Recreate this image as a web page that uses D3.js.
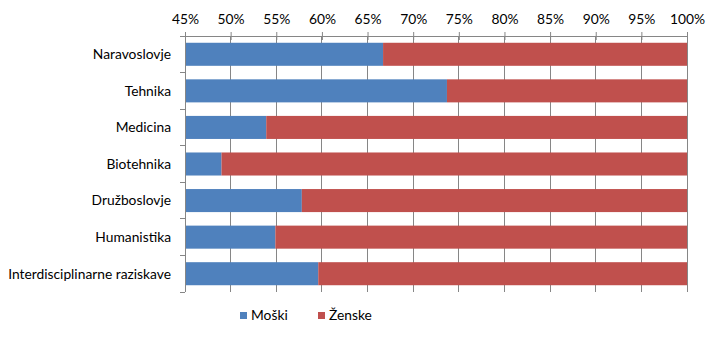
<!DOCTYPE html>
<meta charset="utf-8">
<style>
  body { margin: 0; background: #fff; }
  text { font-family: Lato, "Open Sans", sans-serif; fill: #000; }
</style>
<svg width="718" height="341"></svg>
<script src="https://d3js.org/d3.v7.min.js"></script>
<script>
var categories = ["Naravoslovje", "Tehnika", "Medicina", "Biotehnika",
  "Družboslovje", "Humanistika", "Interdisciplinarne raziskave"]
var moski = [66.7, 73.7, 53.9, 49.0, 57.8, 54.9, 59.6]
var zenske = [33.3, 26.3, 46.1, 51.0, 42.2, 45.1, 40.4]
var seriesNames = ["Moški", "Ženske"]
var seriesColors = ["#4F81BD", "#C0504D"]
var xTicks = [45, 50, 55, 60, 65, 70, 75, 80, 85, 90, 95, 100]

var svg = d3.select('svg')
var plotLeft = 185, plotRight = 687, plotTop = 36, plotBottom = 292
var fontSize = 13.8

var x = d3.scaleLinear().domain([45, 100]).range([plotLeft, plotRight])
var y = d3.scaleBand().domain(categories).range([plotTop, plotBottom]).paddingInner(0.37).paddingOuter(0.185)

// gridlines
svg.append('g').selectAll('line')
  .data(xTicks)
  .enter().append('line')
  .attr('x1', function (d) { return x(d) }).attr('x2', function (d) { return x(d) })
  .attr('y1', plotTop).attr('y2', plotBottom)
  .attr('stroke', '#868686').attr('stroke-width', 1)
  .attr('shape-rendering', 'crispEdges')

// stacked bars: Moški from the axis start, Ženske after it
var rows = categories.map(function (c, i) {
  return { cat: c, m: moski[i], z: zenske[i] }
})
var barGroup = svg.append('g')
barGroup.selectAll('rect.m')
  .data(rows)
  .enter().append('rect')
  .attr('class', 'm')
  .attr('x', x(45))
  .attr('y', function (d) { return y(d.cat) })
  .attr('width', function (d) { return x(d.m) - x(45) })
  .attr('height', y.bandwidth())
  .attr('fill', seriesColors[0])
barGroup.selectAll('rect.z')
  .data(rows)
  .enter().append('rect')
  .attr('class', 'z')
  .attr('x', function (d) { return x(d.m) })
  .attr('y', function (d) { return y(d.cat) })
  .attr('width', function (d) { return x(d.m + d.z) - x(d.m) })
  .attr('height', y.bandwidth())
  .attr('fill', seriesColors[1])

// top axis
var xAxis = d3.axisTop(x).tickValues(xTicks)
  .tickFormat(function (d) { return d + '%' })
  .tickSizeInner(4).tickSizeOuter(0).tickPadding(8)
var gx = svg.append('g').attr('transform', 'translate(0,' + plotTop + ')').call(xAxis)
gx.select('.domain').attr('stroke', '#868686')
gx.selectAll('.tick line').attr('stroke', '#868686').attr('y2', 4).attr('y1', -4)
gx.selectAll('.tick text').attr('font-size', fontSize).attr('font-family', 'Lato, sans-serif').attr('fill', '#000')

// left axis with ticks between categories
var ly = svg.append('g')
ly.append('line')
  .attr('x1', plotLeft).attr('x2', plotLeft).attr('y1', plotTop - 4).attr('y2', plotBottom)
  .attr('stroke', '#868686').attr('shape-rendering', 'crispEdges')
var band = (plotBottom - plotTop) / categories.length
ly.selectAll('line.t')
  .data(d3.range(categories.length + 1))
  .enter().append('line')
  .attr('class', 't')
  .attr('x1', plotLeft - 5).attr('x2', plotLeft)
  .attr('y1', function (i) { return plotTop + i * band })
  .attr('y2', function (i) { return plotTop + i * band })
  .attr('stroke', '#868686').attr('shape-rendering', 'crispEdges')
ly.selectAll('text')
  .data(categories)
  .enter().append('text')
  .attr('x', plotLeft - 14)
  .attr('y', function (d) { return y(d) + y.bandwidth() / 2 })
  .attr('dy', '0.35em')
  .attr('text-anchor', 'end')
  .attr('font-size', fontSize)
  .text(function (d) { return d })

// legend
var legendX = [240, 318]
var lg = svg.append('g').selectAll('g')
  .data(seriesNames)
  .enter().append('g')
  .attr('transform', function (d, i) { return 'translate(' + legendX[i] + ',312)' })
lg.append('rect').attr('width', 7).attr('height', 7)
  .attr('fill', function (d, i) { return seriesColors[i] })
lg.append('text').attr('x', 11).attr('y', 8).attr('font-size', fontSize)
  .text(function (d) { return d })
</script>
